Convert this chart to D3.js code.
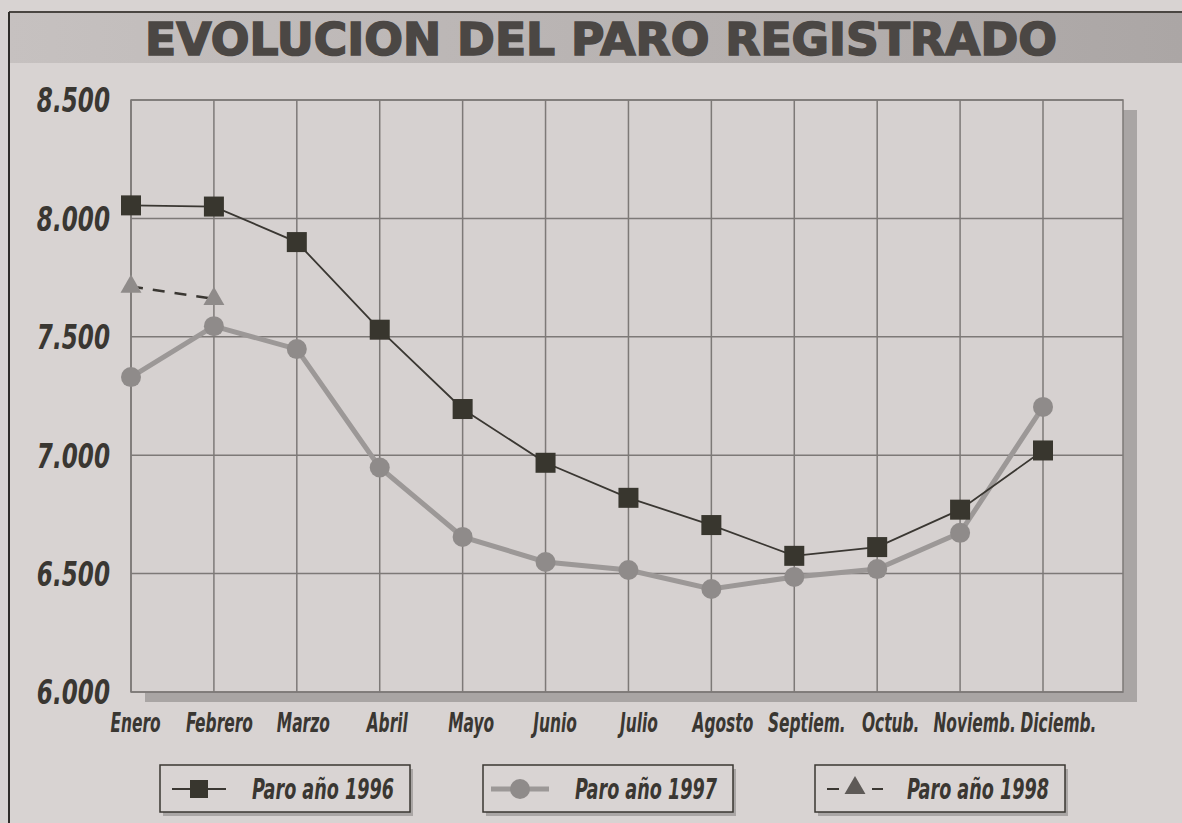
<!DOCTYPE html>
<html lang="es">
<head>
<meta charset="UTF-8">
<title>Evolucion del paro registrado</title>
<script src="https://d3js.org/d3.v7.min.js"></script>
<style>
  body { margin: 0; background: #d8d3d2; }
  .cond { font-family: "DejaVu Sans Condensed", "DejaVu Sans", sans-serif; font-weight: bold; font-style: italic; }
</style>
</head>
<body>
<svg width="1182" height="823"></svg>
<script>
// data
const months = ['Enero', 'Febrero', 'Marzo', 'Abril', 'Mayo', 'Junio', 'Julio', 'Agosto', 'Septiem.', 'Octub.', 'Noviemb.', 'Diciemb.'];
const paro1996 = [8055, 8050, 7900, 7530, 7195, 6968, 6820, 6705, 6575, 6612, 6770, 7020];
const paro1997 = [7330, 7545, 7448, 6948, 6655, 6549, 6515, 6435, 6486, 6519, 6672, 7204];
const paro1998 = [7712, 7660];
const yTicks = [6000, 6500, 7000, 7500, 8000, 8500];
const legendLabels = ['Paro año 1996', 'Paro año 1997', 'Paro año 1998'];

const ink = '#3a3732';
const gray = '#8f8b8a';

const svg = d3.select('svg');
const pL = 131, pR = 1123, pT = 100, pB = 692;

const x = d3.scalePoint().domain(months).range([pL, 1043]);
const y = d3.scaleLinear().domain([6000, 8500]).range([pB, pT]);
const es = d3.formatLocale({decimal: ',', thousands: '.', grouping: [3], currency: ['', '']});

// narrow a text horizontally (no condensed black font installed)
function squeeze(sel, k) {
    sel.each(function() {
        const t = d3.select(this);
        t.attr('x', (+t.attr('x') || 0) / k).attr('transform', `scale(${k},1)`);
    });
}

// page frame + title band
const grad = svg.append('defs').append('linearGradient').attr('id', 'band');
grad.append('stop').attr('offset', '0%').attr('stop-color', '#c6c1c0');
grad.append('stop').attr('offset', '100%').attr('stop-color', '#aba6a5');
svg.append('rect').attr('x', 9).attr('y', 13).attr('width', 1173).attr('height', 50).attr('fill', 'url(#band)');
svg.append('line').attr('x1', 9).attr('x2', 1182).attr('y1', 12).attr('y2', 12).attr('stroke', '#4a4642').attr('stroke-width', 2);
svg.append('line').attr('x1', 9).attr('x2', 9).attr('y1', 12).attr('y2', 823).attr('stroke', '#2f2c29').attr('stroke-width', 2);
svg.append('text')
    .attr('x', 601).attr('y', 55)
    .attr('text-anchor', 'middle')
    .attr('textLength', 912).attr('lengthAdjust', 'spacingAndGlyphs')
    .style('font-family', '"DejaVu Sans", sans-serif')
    .style('font-weight', 'bold')
    .style('font-size', '45px')
    .style('fill', '#4b4744').style('stroke', '#4b4744').style('stroke-width', 1.6)
    .text('EVOLUCION DEL PARO REGISTRADO');

// plot shadow + area
svg.append('rect').attr('x', pL + 14).attr('y', pT + 10).attr('width', pR - pL).attr('height', pB - pT)
    .attr('fill', '#a9a5a4');
svg.append('rect').attr('x', pL).attr('y', pT).attr('width', pR - pL).attr('height', pB - pT)
    .attr('fill', '#d6d1d0').attr('stroke', '#7d7977').attr('stroke-width', 1.5);

// grid + axes
svg.append('g')
    .attr('transform', `translate(${pL},0)`)
    .call(d3.axisLeft(y).tickValues(yTicks).tickSize(0).tickPadding(21).tickFormat(es.format(',')))
    .call(g => g.select('.domain').remove())
    .call(g => g.selectAll('text').attr('class', 'cond').attr('dy', '0.36em')
        .style('font-size', '33px').style('fill', ink).call(squeeze, 0.78));
svg.append('g').selectAll('line.h').data(yTicks).join('line')
    .attr('x1', pL).attr('x2', pR)
    .attr('y1', d => y(d)).attr('y2', d => y(d))
    .attr('stroke', '#7d7977').attr('stroke-width', 1.5);
svg.append('g').selectAll('line.v').data(months).join('line')
    .attr('x1', d => x(d)).attr('x2', d => x(d))
    .attr('y1', pT).attr('y2', pB)
    .attr('stroke', '#7d7977').attr('stroke-width', 1.5);

// month labels sit a little right of their grid line, drifting further right along the axis
svg.append('g')
    .attr('transform', `translate(0,${pB})`)
    .call(d3.axisBottom(x).tickSize(0).tickPadding(22))
    .call(g => g.select('.domain').remove())
    .call(g => g.selectAll('text').attr('class', 'cond').attr('x', (d, i) => 4 + i)
        .style('font-size', '26px').style('fill', ink).call(squeeze, 0.66));

// series
const line = d3.line().x((d, i) => x(months[i])).y(d => y(d));

svg.append('path').datum(paro1997).attr('d', line)
    .attr('fill', 'none').attr('stroke', '#9c9897').attr('stroke-width', 5);
svg.append('g').selectAll('circle').data(paro1997).join('circle')
    .attr('cx', (d, i) => x(months[i])).attr('cy', d => y(d)).attr('r', 10)
    .attr('fill', gray);

svg.append('path').datum(paro1998).attr('d', line)
    .attr('fill', 'none').attr('stroke', ink).attr('stroke-width', 2.5).attr('stroke-dasharray', '12,10');
const tri = d3.symbol().type(d3.symbolTriangle).size(190);
svg.append('g').selectAll('path').data(paro1998).join('path')
    .attr('d', tri)
    .attr('transform', (d, i) => `translate(${x(months[i])},${y(d)})`)
    .attr('fill', gray);

svg.append('path').datum(paro1996).attr('d', line)
    .attr('fill', 'none').attr('stroke', ink).attr('stroke-width', 1.8);
svg.append('g').selectAll('rect').data(paro1996).join('rect')
    .attr('x', (d, i) => x(months[i]) - 10).attr('y', d => y(d) - 10)
    .attr('width', 20).attr('height', 20)
    .attr('fill', '#38362e');

// legend
const boxes = [160, 483, 815];
const lg = svg.append('g').selectAll('g').data(legendLabels).join('g')
    .attr('transform', (d, i) => `translate(${boxes[i]},765)`);
lg.append('rect').attr('x', 3).attr('y', 4).attr('width', 250).attr('height', 47).attr('fill', '#aaa6a5');
lg.append('rect').attr('width', 250).attr('height', 47).attr('fill', '#d9d4d3')
    .attr('stroke', '#3a3732').attr('stroke-width', 1.5);
lg.append('text').attr('class', 'cond')
    .attr('x', 163).attr('y', 24).attr('dy', '0.36em').attr('text-anchor', 'middle')
    .style('font-size', '28px').style('fill', ink)
    .text(d => d)
    .call(squeeze, 0.7);

const l0 = lg.filter((d, i) => i === 0);
l0.append('line').attr('x1', 12).attr('x2', 66).attr('y1', 24).attr('y2', 24).attr('stroke', ink).attr('stroke-width', 1.8);
l0.append('rect').attr('x', 30).attr('y', 15).attr('width', 18).attr('height', 18).attr('fill', '#38362e');

const l1 = lg.filter((d, i) => i === 1);
l1.append('line').attr('x1', 8).attr('x2', 66).attr('y1', 24).attr('y2', 24).attr('stroke', '#9c9897').attr('stroke-width', 5);
l1.append('circle').attr('cx', 37).attr('cy', 24).attr('r', 10).attr('fill', gray);

const l2 = lg.filter((d, i) => i === 2);
l2.append('line').attr('x1', 12).attr('x2', 24).attr('y1', 24).attr('y2', 24).attr('stroke', ink).attr('stroke-width', 2);
l2.append('line').attr('x1', 57).attr('x2', 68).attr('y1', 24).attr('y2', 24).attr('stroke', ink).attr('stroke-width', 2);
l2.append('path').attr('d', tri).attr('transform', 'translate(40,23)').attr('fill', '#5e5a57');
</script>
</body>
</html>
